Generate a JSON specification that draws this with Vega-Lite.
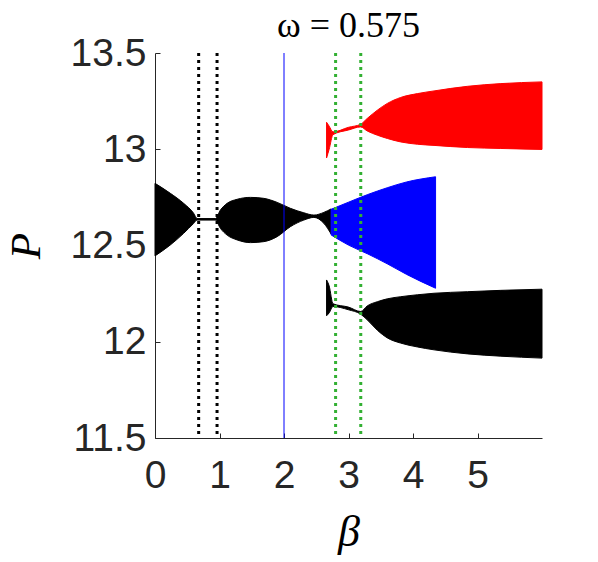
{
  "$schema": "https://vega.github.io/schema/vega-lite/v6.json",
  "width": 387,
  "height": 385,
  "autosize": {"type": "none"},
  "padding": {"left": 155, "top": 53, "right": 56, "bottom": 124},
  "background": "white",
  "title": {
    "text": "ω = 0.575",
    "font": "Liberation Serif",
    "fontSize": 36,
    "fontWeight": "normal",
    "color": "#000000",
    "anchor": "middle",
    "baseline": "alphabetic",
    "offset": -39
  },
  "config": {
    "view": {"stroke": null},
    "axis": {
      "grid": false,
      "domainColor": "#262626",
      "domainWidth": 1,
      "tickColor": "#262626",
      "tickWidth": 1,
      "tickSize": -5,
      "labelColor": "#262626",
      "labelFont": "Liberation Sans",
      "labelFontSize": 39,
      "labelFlush": false,
      "titleColor": "#000000",
      "titleFont": "Liberation Serif",
      "titleFontStyle": "italic",
      "titleFontWeight": "normal",
      "titleFontSize": 44
    }
  },
  "datasets": {
    "bands": [
      {"seg": "main", "branch": "black", "beta": 0.0, "lo": 12.446, "hi": 12.823},
      {"seg": "main", "branch": "black", "beta": 0.238, "lo": 12.503, "hi": 12.771},
      {"seg": "main", "branch": "black", "beta": 0.444, "lo": 12.563, "hi": 12.719},
      {"seg": "main", "branch": "black", "beta": 0.6, "lo": 12.615, "hi": 12.667},
      {"seg": "main", "branch": "black", "beta": 0.652, "lo": 12.632, "hi": 12.640},
      {"seg": "main", "branch": "black", "beta": 0.936, "lo": 12.632, "hi": 12.640},
      {"seg": "main", "branch": "black", "beta": 1.014, "lo": 12.589, "hi": 12.684},
      {"seg": "main", "branch": "black", "beta": 1.118, "lo": 12.554, "hi": 12.719},
      {"seg": "main", "branch": "black", "beta": 1.273, "lo": 12.529, "hi": 12.740},
      {"seg": "main", "branch": "black", "beta": 1.48, "lo": 12.515, "hi": 12.750},
      {"seg": "main", "branch": "black", "beta": 1.686, "lo": 12.520, "hi": 12.745},
      {"seg": "main", "branch": "black", "beta": 1.894, "lo": 12.546, "hi": 12.724},
      {"seg": "main", "branch": "black", "beta": 2.10, "lo": 12.598, "hi": 12.693},
      {"seg": "main", "branch": "black", "beta": 2.307, "lo": 12.632, "hi": 12.670},
      {"seg": "main", "branch": "black", "beta": 2.463, "lo": 12.646, "hi": 12.658},
      {"seg": "main", "branch": "black", "beta": 2.618, "lo": 12.615, "hi": 12.672},
      {"seg": "main", "branch": "black", "beta": 2.73, "lo": 12.560, "hi": 12.690},
      {"seg": "lower", "branch": "black", "beta": 2.66, "lo": 12.135, "hi": 12.321},
      {"seg": "lower", "branch": "black", "beta": 2.70, "lo": 12.15, "hi": 12.29},
      {"seg": "lower", "branch": "black", "beta": 2.76, "lo": 12.183, "hi": 12.197},
      {"seg": "lower", "branch": "black", "beta": 3.0, "lo": 12.166, "hi": 12.180},
      {"seg": "lower", "branch": "black", "beta": 3.19, "lo": 12.143, "hi": 12.157},
      {"seg": "lower", "branch": "black", "beta": 3.29, "lo": 12.114, "hi": 12.186},
      {"seg": "lower", "branch": "black", "beta": 3.447, "lo": 12.060, "hi": 12.208},
      {"seg": "lower", "branch": "black", "beta": 3.602, "lo": 12.020, "hi": 12.223},
      {"seg": "lower", "branch": "black", "beta": 3.809, "lo": 11.993, "hi": 12.234},
      {"seg": "lower", "branch": "black", "beta": 4.068, "lo": 11.973, "hi": 12.244},
      {"seg": "lower", "branch": "black", "beta": 4.326, "lo": 11.958, "hi": 12.252},
      {"seg": "lower", "branch": "black", "beta": 4.845, "lo": 11.937, "hi": 12.260},
      {"seg": "lower", "branch": "black", "beta": 5.362, "lo": 11.925, "hi": 12.267},
      {"seg": "lower", "branch": "black", "beta": 6.0, "lo": 11.915, "hi": 12.273},
      {"seg": "blue", "branch": "blue", "beta": 2.73, "lo": 12.555, "hi": 12.688},
      {"seg": "blue", "branch": "blue", "beta": 3.0, "lo": 12.502, "hi": 12.725},
      {"seg": "blue", "branch": "blue", "beta": 3.3, "lo": 12.456, "hi": 12.765},
      {"seg": "blue", "branch": "blue", "beta": 3.6, "lo": 12.405, "hi": 12.800},
      {"seg": "blue", "branch": "blue", "beta": 3.9, "lo": 12.350, "hi": 12.830},
      {"seg": "blue", "branch": "blue", "beta": 4.35, "lo": 12.278, "hi": 12.857},
      {"seg": "red", "branch": "red", "beta": 2.66, "lo": 12.955, "hi": 13.14},
      {"seg": "red", "branch": "red", "beta": 2.70, "lo": 13.00, "hi": 13.12},
      {"seg": "red", "branch": "red", "beta": 2.76, "lo": 13.076, "hi": 13.090},
      {"seg": "red", "branch": "red", "beta": 3.0, "lo": 13.100, "hi": 13.114},
      {"seg": "red", "branch": "red", "beta": 3.188, "lo": 13.116, "hi": 13.130},
      {"seg": "red", "branch": "red", "beta": 3.29, "lo": 13.095, "hi": 13.160},
      {"seg": "red", "branch": "red", "beta": 3.447, "lo": 13.073, "hi": 13.203},
      {"seg": "red", "branch": "red", "beta": 3.602, "lo": 13.056, "hi": 13.238},
      {"seg": "red", "branch": "red", "beta": 3.809, "lo": 13.038, "hi": 13.269},
      {"seg": "red", "branch": "red", "beta": 4.068, "lo": 13.026, "hi": 13.289},
      {"seg": "red", "branch": "red", "beta": 4.326, "lo": 13.020, "hi": 13.303},
      {"seg": "red", "branch": "red", "beta": 4.845, "lo": 13.009, "hi": 13.327},
      {"seg": "red", "branch": "red", "beta": 5.362, "lo": 13.004, "hi": 13.341},
      {"seg": "red", "branch": "red", "beta": 6.0, "lo": 12.999, "hi": 13.350}
    ],
    "vlines": [
      {"beta": 0.677, "kind": "black"},
      {"beta": 0.962, "kind": "black"},
      {"beta": 2.0, "kind": "blue"},
      {"beta": 2.80, "kind": "green"},
      {"beta": 3.19, "kind": "green"}
    ]
  },
  "layer": [
    {
      "data": {"name": "bands"},
      "mark": {"type": "area", "strokeWidth": 1, "interpolate": "monotone", "opacity": 1},
      "encoding": {
        "x": {
          "field": "beta", "type": "quantitative",
          "scale": {"domain": [0, 6], "nice": false, "zero": false},
          "axis": {"values": [0, 1, 2, 3, 4, 5], "format": "d", "title": "β", "labelPadding": 23, "titleBaseline": "alphabetic", "titleY": 107}
        },
        "y": {
          "field": "lo", "type": "quantitative",
          "scale": {"domain": [11.5, 13.5], "nice": false, "zero": false},
          "axis": {"values": [11.5, 12, 12.5, 13, 13.5], "format": "~g", "title": "P", "labelPadding": 14, "titleBaseline": "alphabetic", "titleX": -116, "titleFontSize": 43, "titleAngle": -90}
        },
        "y2": {"field": "hi"},
        "fill": {"field": "branch", "type": "nominal", "scale": {"domain": ["black", "blue", "red"], "range": ["#000000", "#0000ff", "#ff0000"]}, "legend": null},
        "stroke": {"field": "branch", "type": "nominal", "scale": {"domain": ["black", "blue", "red"], "range": ["#000000", "#0000ff", "#ff0000"]}, "legend": null},
        "detail": {"field": "seg"}
      }
    },
    {
      "data": {"name": "vlines"},
      "transform": [{"filter": "datum.kind === 'black'"}],
      "mark": {"type": "rule", "color": "#000000", "strokeWidth": 3, "strokeDash": [3, 4]},
      "encoding": {"x": {"field": "beta", "type": "quantitative"}}
    },
    {
      "data": {"name": "vlines"},
      "transform": [{"filter": "datum.kind === 'blue'"}],
      "mark": {"type": "rule", "color": "#0000ff", "strokeWidth": 1},
      "encoding": {"x": {"field": "beta", "type": "quantitative"}}
    },
    {
      "data": {"name": "vlines"},
      "transform": [{"filter": "datum.kind === 'green'"}],
      "mark": {"type": "rule", "color": "#33b033", "strokeWidth": 3, "strokeDash": [3, 4]},
      "encoding": {"x": {"field": "beta", "type": "quantitative"}}
    }
  ]
}
